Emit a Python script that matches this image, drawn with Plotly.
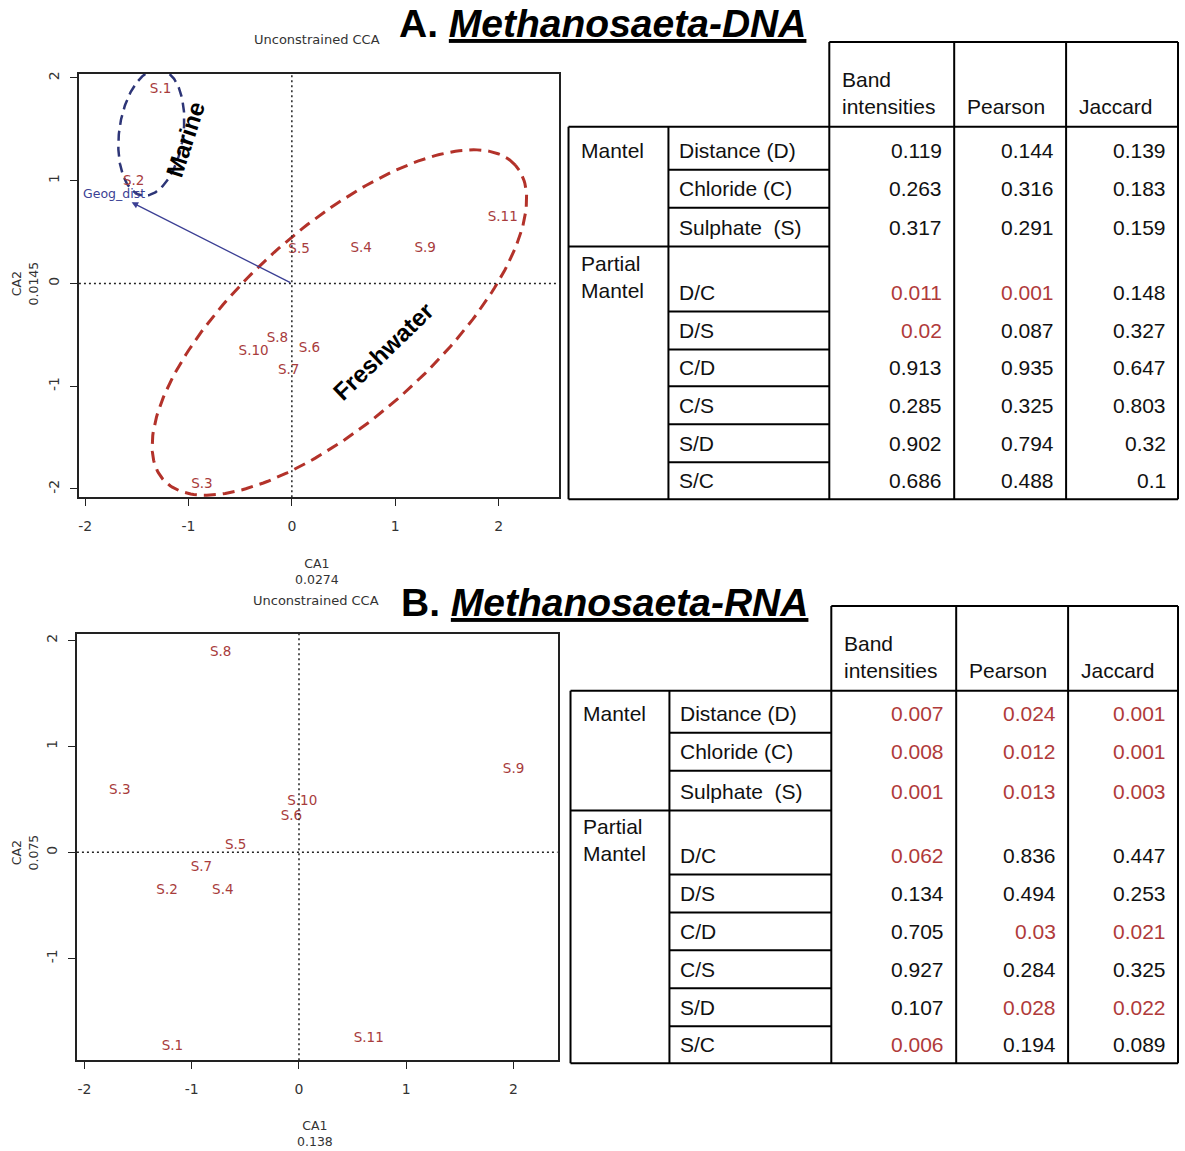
import numpy as np
import plotly.graph_objects as go

W, H = 1185, 1151

# ---------------- Data: panel A (DNA) ----------------
a_sites = ["S.1", "S.2", "S.3", "S.4", "S.5", "S.6", "S.7", "S.8", "S.9", "S.10", "S.11"]
a_ca1 = [-1.27, -1.53, -0.87, 0.67, 0.07, 0.17, -0.03, -0.14, 1.29, -0.37, 2.04]
a_ca2 = [1.89, 0.99, -1.96, 0.34, 0.33, -0.63, -0.85, -0.54, 0.34, -0.66, 0.64]
a_env_name = "Geog_dist"
a_env_ca1 = -1.55
a_env_ca2 = 0.79
a_x_title = "CA1<br>0.0274"
a_y_title = "CA2<br>0.0145"

# ---------------- Data: panel B (RNA) ----------------
b_sites = ["S.1", "S.2", "S.3", "S.4", "S.5", "S.6", "S.7", "S.8", "S.9", "S.10", "S.11"]
b_ca1 = [-1.18, -1.23, -1.67, -0.71, -0.59, -0.07, -0.91, -0.73, 2.00, 0.03, 0.65]
b_ca2 = [-1.83, -0.36, 0.58, -0.36, 0.06, 0.34, -0.14, 1.88, 0.78, 0.48, -1.76]
b_x_title = "CA1<br>0.138"
b_y_title = "CA2<br>0.075"

tick_vals = [-2, -1, 0, 1, 2]
tick_text = ["-2", "-1", "0", "1", "2"]

# ---------------- Table data ----------------
group_labels = ["Mantel", "Partial<br>Mantel"]
row_labels = ["Distance (D)", "Chloride (C)", "Sulphate  (S)", "D/C", "D/S", "C/D", "C/S", "S/D", "S/C"]
col_labels = ["Band<br>intensities", "Pearson", "Jaccard"]

a_band = [0.119, 0.263, 0.317, 0.011, 0.02, 0.913, 0.285, 0.902, 0.686]
a_pearson = [0.144, 0.316, 0.291, 0.001, 0.087, 0.935, 0.325, 0.794, 0.488]
a_jaccard = [0.139, 0.183, 0.159, 0.148, 0.327, 0.647, 0.803, 0.32, 0.1]
a_band_hl = [0, 0, 0, 1, 1, 0, 0, 0, 0]
a_pearson_hl = [0, 0, 0, 1, 0, 0, 0, 0, 0]
a_jaccard_hl = [0, 0, 0, 0, 0, 0, 0, 0, 0]

b_band = [0.007, 0.008, 0.001, 0.062, 0.134, 0.705, 0.927, 0.107, 0.006]
b_pearson = [0.024, 0.012, 0.013, 0.836, 0.494, 0.03, 0.284, 0.028, 0.194]
b_jaccard = [0.001, 0.001, 0.003, 0.447, 0.253, 0.021, 0.325, 0.022, 0.089]
b_band_hl = [1, 1, 1, 1, 0, 0, 0, 0, 1]
b_pearson_hl = [1, 1, 1, 0, 0, 1, 0, 1, 0]
b_jaccard_hl = [1, 1, 1, 0, 0, 1, 0, 1, 0]

# ---------------- Styles ----------------
SITE_COL = "#a83c3c"
ENV_COL = "#3b3f94"
RED_ELL = "#b3322a"
BLUE_ELL = "#2d3577"
HL_COL = "#b03a3a"
R_FONT = "DejaVu Sans"
T_FONT = "Liberation Sans, Arial"


def px(x):
    return x / W


def py(y):
    return 1 - y / H


def ellipse(cx, cy, a, b, ang_deg, n=240):
    t = np.linspace(0, 2 * np.pi, n)
    th = np.deg2rad(ang_deg)
    x = cx + a * np.cos(t) * np.cos(th) - b * np.sin(t) * np.sin(th)
    y = cy + a * np.cos(t) * np.sin(th) + b * np.sin(t) * np.cos(th)
    return x, y


fig = go.Figure()

# ---- Panel A traces ----
ex, ey = ellipse(0.46, -0.38, 2.29, 0.93, 42)
fig.add_trace(go.Scatter(x=ex, y=ey, mode="lines", xaxis="x", yaxis="y",
                         line=dict(color=RED_ELL, width=3, dash="12px,7px"), hoverinfo="skip"))
ex, ey = ellipse(-1.36, 1.47, 0.62, 0.31, 82)
fig.add_trace(go.Scatter(x=ex, y=ey, mode="lines", xaxis="x", yaxis="y",
                         line=dict(color=BLUE_ELL, width=2.5, dash="10px,6px"), hoverinfo="skip"))
fig.add_trace(go.Scatter(x=a_ca1, y=a_ca2, text=a_sites, mode="text", xaxis="x", yaxis="y",
                         textfont=dict(family=R_FONT, size=13.5, color=SITE_COL), cliponaxis=False))
fig.add_trace(go.Scatter(x=[a_env_ca1 - 0.17], y=[a_env_ca2 + 0.07], text=[a_env_name], mode="text",
                         xaxis="x", yaxis="y",
                         textfont=dict(family=R_FONT, size=12.5, color=ENV_COL), cliponaxis=False))

# ---- Panel B traces ----
fig.add_trace(go.Scatter(x=b_ca1, y=b_ca2, text=b_sites, mode="text", xaxis="x2", yaxis="y2",
                         textfont=dict(family=R_FONT, size=13.5, color=SITE_COL), cliponaxis=False))

axis_common = dict(showgrid=False, zeroline=False, showline=True, mirror=True, linecolor="#222",
                   linewidth=1.5, ticks="outside", ticklen=7, tickwidth=1.3, tickcolor="#222",
                   tickvals=tick_vals, ticktext=tick_text,
                   tickfont=dict(family=R_FONT, size=14, color="#333"))

fig.update_layout(
    width=W, height=H, margin=dict(l=0, r=0, t=0, b=0),
    paper_bgcolor="white", plot_bgcolor="white", showlegend=False,
    xaxis=dict(domain=[px(78), px(558)], range=[-2.06, 2.58], anchor="y",
               ticklabelstandoff=8, **axis_common),
    yaxis=dict(domain=[py(496), py(72)], range=[-2.08, 2.04], anchor="x", tickangle=-90,
               ticklabelstandoff=6, **axis_common),
    xaxis2=dict(domain=[px(76), px(557)], range=[-2.07, 2.41], anchor="y2",
                ticklabelstandoff=8, **axis_common),
    yaxis2=dict(domain=[py(1060), py(633)], range=[-1.96, 2.06], anchor="x2", tickangle=-90,
                ticklabelstandoff=6, **axis_common),
)

shapes = []
annotations = []

# dotted zero lines
for xr, yr in (("x", "y"), ("x2", "y2")):
    shapes.append(dict(type="line", xref=xr, yref=yr + " domain", x0=0, x1=0, y0=0, y1=1,
                       line=dict(color="#222", width=1.5, dash="2px,3px")))
    shapes.append(dict(type="line", xref=xr + " domain", yref=yr, x0=0, x1=1, y0=0, y1=0,
                       line=dict(color="#222", width=1.5, dash="2px,3px")))

# environmental arrow
annotations.append(dict(x=a_env_ca1, y=a_env_ca2, ax=0, ay=0, xref="x", yref="y", axref="x", ayref="y",
                        text="", showarrow=True, arrowhead=2, arrowsize=1.0, arrowwidth=1.3,
                        arrowcolor=ENV_COL))

# group labels in panel A
annotations.append(dict(x=-1.03, y=1.40, xref="x", yref="y", text="<b>Marine</b>", showarrow=False,
                        textangle=-72, font=dict(family=T_FONT, size=24, color="black")))
annotations.append(dict(x=0.88, y=-0.66, xref="x", yref="y", text="<b>Freshwater</b>", showarrow=False,
                        textangle=-44, font=dict(family=T_FONT, size=24, color="black")))

titles = [("A.", "Methanosaeta-DNA", 396, 22, 316, 38, 316, 570, a_x_title, 24, 282, a_y_title),
          ("B.", "Methanosaeta-RNA", 398, 602, 315, 600, 314, 1133, b_x_title, 24, 852, b_y_title)]
for lead, name, tx, ty, ux, uy, cx, cy, xtit, yx, yy, ytit in titles:
    annotations.append(dict(x=px(tx), y=py(ty), xref="paper", yref="paper", xanchor="left",
                            yanchor="middle", showarrow=False,
                            text=f"<b>{lead} </b><b><i><u>{name}</u></i></b>",
                            font=dict(family=T_FONT, size=39, color="black")))
    annotations.append(dict(x=px(ux), y=py(uy), xref="paper", yref="paper", xanchor="center",
                            yanchor="middle", showarrow=False, text="Unconstrained CCA",
                            font=dict(family=R_FONT, size=13, color="#333")))
    annotations.append(dict(x=px(cx), y=py(cy), xref="paper", yref="paper", xanchor="center",
                            yanchor="middle", showarrow=False, text=xtit,
                            font=dict(family=R_FONT, size=12.5, color="#333")))
    annotations.append(dict(x=px(yx), y=py(yy), xref="paper", yref="paper", xanchor="center",
                            yanchor="middle", showarrow=False, text=ytit, textangle=-90,
                            font=dict(family=R_FONT, size=12.5, color="#333")))


def add_table(head_top, rows, cols, vals, hls):
    c0, c1, c2, c3, c4, c5 = cols
    body_top, bottom = rows[0], rows[-1]
    segs = [(c2, head_top, c5, head_top), (c0, body_top, c5, body_top), (c0, bottom, c5, bottom),
            (c0, body_top, c0, bottom), (c1, body_top, c1, bottom)]
    for c in (c2, c3, c4, c5):
        segs.append((c, head_top, c, bottom))
    for i, yb in enumerate(rows[1:-1]):
        segs.append((c0 if i == 2 else c1, yb, c2, yb))
    for x0, y0, x1, y1 in segs:
        shapes.append(dict(type="line", xref="paper", yref="paper", x0=px(x0), y0=py(y0),
                           x1=px(x1), y1=py(y1), line=dict(color="black", width=2)))
    f = dict(family=T_FONT, size=21, color="#111")
    for j, lab in enumerate(col_labels):
        annotations.append(dict(x=px(cols[2 + j] + 11), y=py(body_top - 7), xref="paper", yref="paper",
                                xanchor="left", yanchor="bottom", align="left", showarrow=False,
                                text=lab, font=f))
    annotations.append(dict(x=px(c0 + 10), y=py(rows[1] - 19), xref="paper", yref="paper",
                            xanchor="left", yanchor="middle", showarrow=False, text=group_labels[0], font=f))
    annotations.append(dict(x=px(c0 + 10), y=py(rows[4] - 7), xref="paper", yref="paper",
                            xanchor="left", yanchor="bottom", align="left", showarrow=False,
                            text=group_labels[1], font=f))
    for i, lab in enumerate(row_labels):
        yc = rows[i + 1] - 19
        annotations.append(dict(x=px(c1 + 9), y=py(yc), xref="paper", yref="paper",
                                xanchor="left", yanchor="middle", showarrow=False, text=lab, font=f))
        for j in range(3):
            col = HL_COL if hls[j][i] else "#111"
            annotations.append(dict(x=px(cols[3 + j] - 10), y=py(yc), xref="paper", yref="paper",
                                    xanchor="right", yanchor="middle", showarrow=False,
                                    text=f"{vals[j][i]:g}",
                                    font=dict(family=T_FONT, size=21, color=col)))


add_table(40, [125, 168, 206, 245, 310, 348, 385, 423, 461, 498],
          [568, 668, 829, 954, 1066, 1178],
          [a_band, a_pearson, a_jaccard], [a_band_hl, a_pearson_hl, a_jaccard_hl])
add_table(605, [690, 732, 770, 810, 874, 912, 950, 988, 1026, 1063],
          [570, 669, 831, 956, 1068, 1178],
          [b_band, b_pearson, b_jaccard], [b_band_hl, b_pearson_hl, b_jaccard_hl])

fig.update_layout(shapes=shapes, annotations=annotations)
fig.write_html("out.html")
